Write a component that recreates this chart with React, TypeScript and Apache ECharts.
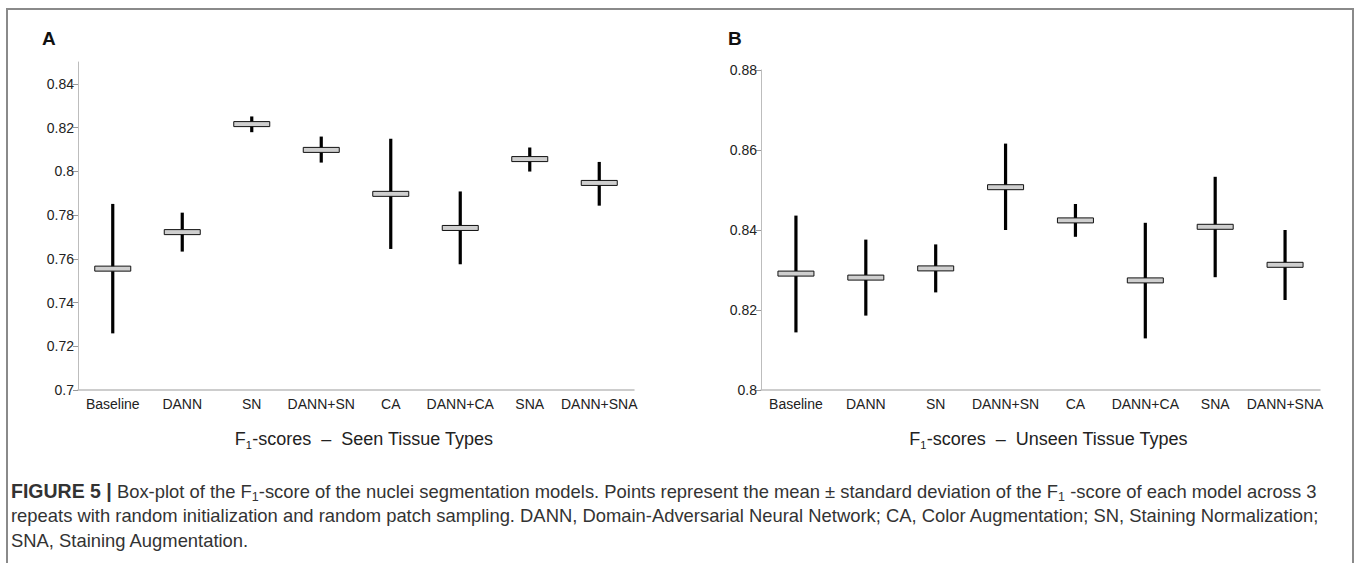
import React, { useEffect, useRef } from "react";
import * as echarts from "echarts";

const categories = ["Baseline", "DANN", "SN", "DANN+SN", "CA", "DANN+CA", "SNA", "DANN+SNA"];
const seenMean = [0.7555, 0.7722, 0.8216, 0.8098, 0.7897, 0.7741, 0.8056, 0.7947];
const seenLow = [0.7259, 0.7633, 0.8179, 0.804, 0.7645, 0.7575, 0.7999, 0.7843];
const seenHigh = [0.7851, 0.7811, 0.8251, 0.8159, 0.8149, 0.7908, 0.8109, 0.8043];
const unseenMean = [0.8291, 0.8281, 0.8304, 0.8507, 0.8424, 0.8274, 0.8408, 0.8313];
const unseenLow = [0.8144, 0.8186, 0.8244, 0.84, 0.8383, 0.8129, 0.8282, 0.8225];
const unseenHigh = [0.8436, 0.8376, 0.8364, 0.8616, 0.8465, 0.8418, 0.8533, 0.84];
const seenTicks = [0.7, 0.72, 0.74, 0.76, 0.78, 0.8, 0.82, 0.84];
const unseenTicks = [0.8, 0.82, 0.84, 0.86, 0.88];

const FONT = "'Liberation Sans', Arial, Helvetica, sans-serif";

function renderItem(params: any, api: any) {
  const x = api.value(0);
  const top = api.coord([x, api.value(3)]);
  const bot = api.coord([x, api.value(2)]);
  const mid = api.coord([x, api.value(1)]);
  const w = 36;
  const h = 5;
  return {
    type: "group",
    children: [
      {
        type: "line",
        shape: { x1: top[0], y1: top[1], x2: bot[0], y2: bot[1] },
        style: { stroke: "#000", lineWidth: 3.2 },
      },
      {
        type: "rect",
        shape: { x: mid[0] - w / 2, y: mid[1] - h / 2, width: w, height: h },
        style: { fill: "#cfcfcf", stroke: "#111", lineWidth: 1 },
      },
    ],
  };
}

function yAxis(gridIndex: number, min: number, max: number, ticks: number[]) {
  return {
    type: "value",
    gridIndex,
    min,
    max,
    interval: 0.02,
    axisLine: { show: true, lineStyle: { color: "#bdbdbd", width: 1 } },
    axisTick: { show: true, length: 5, lineStyle: { color: "#999" }, customValues: ticks },
    axisLabel: {
      color: "#222",
      fontSize: 14,
      fontFamily: FONT,
      margin: 4,
      customValues: ticks,
    },
    splitLine: { show: false },
  };
}

function xAxis(gridIndex: number, label: string) {
  return {
    type: "category",
    gridIndex,
    data: categories,
    boundaryGap: true,
    axisLine: { show: true, lineStyle: { color: "#bdbdbd", width: 1.5 } },
    axisTick: { show: false },
    axisLabel: { color: "#222", fontSize: 14, fontFamily: FONT, margin: 7, interval: 0 },
    name: "{m|F}{s|1}{m|-scores  –  " + label + "}",
    nameLocation: "middle",
    nameGap: 38,
    nameTextStyle: {
      padding: [0, 0, 0, 16],
      rich: {
        m: { fontSize: 18, fontFamily: FONT, color: "#222", lineHeight: 22 },
        s: { fontSize: 11, fontFamily: FONT, color: "#222", verticalAlign: "bottom", lineHeight: 22, padding: [10, 0, 0, 0] },
      },
    },
  };
}

const capRich = {
  n: { fontSize: 18.4, fontFamily: FONT, color: "#333", lineHeight: 24.5 },
  b: { fontSize: 19.5, fontFamily: FONT, color: "#222", fontWeight: "bold", lineHeight: 24.5 },
  s: { fontSize: 12.5, fontFamily: FONT, color: "#333", lineHeight: 24.5, verticalAlign: "bottom", padding: [9, 0, 0, 0] },
};

export default function App() {
  const ref = useRef<HTMLDivElement>(null);
  useEffect(() => {
    if (!ref.current) return;
    const chart = echarts.init(ref.current, undefined, { renderer: "svg" });
    const seenData = categories.map((_, i) => [i, seenMean[i], seenLow[i], seenHigh[i]]);
    const unseenData = categories.map((_, i) => [i, unseenMean[i], unseenLow[i], unseenHigh[i]]);
    chart.setOption({
      animation: false,
      backgroundColor: "#fff",
      grid: [
        { left: 78, top: 62, width: 556, height: 328 },
        { left: 761, top: 70, width: 559, height: 320 },
      ],
      xAxis: [xAxis(0, "Seen Tissue Types"), xAxis(1, "Unseen Tissue Types")],
      yAxis: [yAxis(0, 0.7, 0.85, seenTicks), yAxis(1, 0.8, 0.88, unseenTicks)],
      series: [
        { type: "custom", xAxisIndex: 0, yAxisIndex: 0, data: seenData, renderItem, encode: { x: 0, y: [1, 2, 3] } },
        { type: "custom", xAxisIndex: 1, yAxisIndex: 1, data: unseenData, renderItem, encode: { x: 0, y: [1, 2, 3] } },
      ],
      graphic: [
        {
          type: "rect",
          shape: { x: 7, y: 9, width: 1346, height: 600 },
          style: { fill: "none", stroke: "#8a8a8a", lineWidth: 2 },
          silent: true,
        },
        {
          type: "text",
          x: 42,
          y: 29,
          style: { text: "A", fontSize: 19, fontWeight: "bold", fontFamily: FONT, fill: "#111" },
        },
        {
          type: "text",
          x: 728,
          y: 29,
          style: { text: "B", fontSize: 19, fontWeight: "bold", fontFamily: FONT, fill: "#111" },
        },
        {
          type: "text",
          x: 11,
          y: 479,
          style: {
            text:
              "{b|FIGURE 5 |}{n| Box-plot of the F}{s|1}{n|-score of the nuclei segmentation models. Points represent the mean ± standard deviation of the F}{s|1}{n| -score of each model across 3}\n" +
              "{n|repeats with random initialization and random patch sampling. DANN, Domain-Adversarial Neural Network; CA, Color Augmentation; SN, Staining Normalization;}\n" +
              "{n|SNA, Staining Augmentation.}",
            rich: capRich,
            fontFamily: FONT,
            fontSize: 18.4,
            lineHeight: 24.5,
            fill: "#333",
          },
        },
      ],
    });
    return () => chart.dispose();
  }, []);
  return (
    <div
      ref={ref}
      style={{ position: "fixed", left: 0, top: 0, width: 1358, height: 563 }}
    />
  );
}
